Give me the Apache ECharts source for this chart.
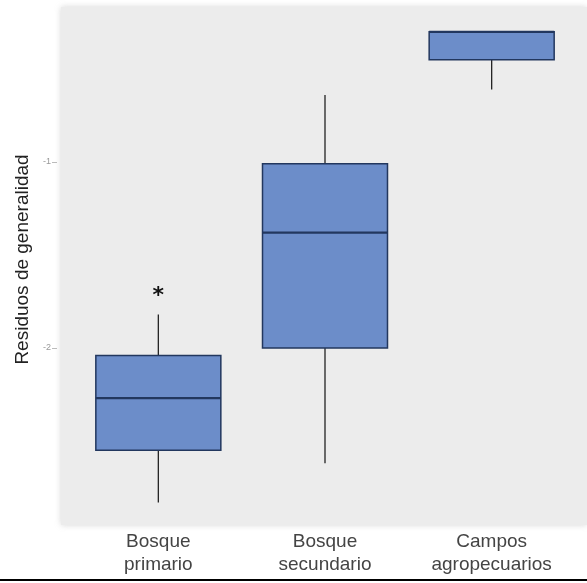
<!DOCTYPE html>
<html>
<head>
<meta charset="utf-8">
<script src="https://cdn.jsdelivr.net/npm/echarts@6/dist/echarts.min.js"></script>
<style>
  html, body { margin: 0; padding: 0; background: #fff; }
  #chart { width: 587px; height: 583px; }
</style>
</head>
<body>
<div id="chart"></div>
<script>
// Land-use categories
const categories = ['Bosque\nprimario', 'Bosque\nsecundario', 'Campos\nagropecuarios'];
// Five-number summaries: [min, Q1, median, Q3, max]
const lowWhisker = [-2.83, -2.62, -0.61];
const q1 = [-2.55, -2.00, -0.45];
const median = [-2.27, -1.38, -0.30];
const q3 = [-2.04, -1.01, -0.30];
const highWhisker = [-1.82, -0.64, -0.30];
// Outlier marked with an asterisk: [category index, value]
const outliers = [[0, -1.70]];
// Y-axis ticks
const yTicks = [-2, -1];
const yTickLabels = ['-2', '-1'];

const boxData = categories.map((c, i) => [i, lowWhisker[i], q1[i], median[i], q3[i], highWhisker[i]]);

const chart = echarts.init(document.getElementById('chart'));

const BOX_FILL = '#6c8dc9';
const BOX_EDGE = '#22375e';
const FONT = 'Liberation Sans, Arial, sans-serif';

function renderBox(params, api) {
  const idx = api.value(0);
  const lo = api.coord([idx, api.value(1)]);
  const b1 = api.coord([idx, api.value(2)]);
  const md = api.coord([idx, api.value(3)]);
  const b3 = api.coord([idx, api.value(4)]);
  const hi = api.coord([idx, api.value(5)]);
  const band = api.size([1, 0])[0];
  const w = band * 0.75;
  const x = lo[0];
  const children = [];
  if (Math.abs(hi[1] - b3[1]) > 0.5) {
    children.push({ type: 'line', shape: { x1: x, y1: hi[1], x2: x, y2: b3[1] },
      style: { stroke: '#222', lineWidth: 1.3 } });
  }
  if (Math.abs(lo[1] - b1[1]) > 0.5) {
    children.push({ type: 'line', shape: { x1: x, y1: b1[1], x2: x, y2: lo[1] },
      style: { stroke: '#222', lineWidth: 1.3 } });
  }
  children.push({ type: 'rect', shape: { x: x - w / 2, y: b3[1], width: w, height: b1[1] - b3[1] },
    style: { fill: BOX_FILL, stroke: BOX_EDGE, lineWidth: 1.5 } });
  children.push({ type: 'line', shape: { x1: x - w / 2, y1: md[1], x2: x + w / 2, y2: md[1] },
    style: { stroke: BOX_EDGE, lineWidth: 2.2 } });
  return { type: 'group', children };
}

function renderOutlier(params, api) {
  const p = api.coord([api.value(0), api.value(1)]);
  return {
    type: 'text',
    x: p[0], y: p[1] + 4,
    style: { text: '*', fill: '#111', font: 'bold 22px "DejaVu Sans", sans-serif',
      align: 'center', verticalAlign: 'middle' }
  };
}

chart.setOption({
  animation: false,
  backgroundColor: '#ffffff',
  grid: { left: 75, right: 12, top: 6, bottom: 58, containLabel: false },
  graphic: [
    { type: 'rect', z: -10, shape: { x: 61, y: 7, width: 526, height: 518 },
      style: { fill: '#ececec', shadowBlur: 6, shadowColor: 'rgba(205,205,205,0.8)' } },
    { type: 'line', z: 10, shape: { x1: 0, y1: 580, x2: 587, y2: 580 },
      style: { stroke: '#000', lineWidth: 2 } }
  ],
  xAxis: {
    type: 'category',
    data: categories,
    boundaryGap: true,
    axisLine: { show: false },
    axisTick: { show: false },
    axisLabel: { color: '#444', fontSize: 19, lineHeight: 23, margin: 5, fontFamily: FONT },
    splitLine: { show: false }
  },
  yAxis: {
    type: 'value',
    min: -2.9516,
    max: -0.1613,
    offset: 18,
    name: 'Residuos de generalidad',
    nameLocation: 'middle',
    nameGap: 23,
    nameTextStyle: { color: '#222', fontSize: 19, fontFamily: FONT, padding: [0, 0, 0, 12] },
    axisLine: { show: false },
    axisTick: { show: true, customValues: yTicks, length: 5, lineStyle: { color: '#bbb' } },
    axisLabel: {
      customValues: yTicks,
      formatter: v => yTickLabels[yTicks.indexOf(Math.round(v))] || '',
      color: '#999', fontSize: 9, margin: 6
    },
    splitLine: { show: false }
  },
  series: [
    {
      type: 'custom',
      renderItem: renderBox,
      encode: { x: 0, y: [1, 2, 3, 4, 5] },
      data: boxData,
      z: 3
    },
    {
      type: 'custom',
      renderItem: renderOutlier,
      encode: { x: 0, y: 1 },
      data: outliers,
      z: 4
    }
  ]
});
</script>
</body>
</html>
